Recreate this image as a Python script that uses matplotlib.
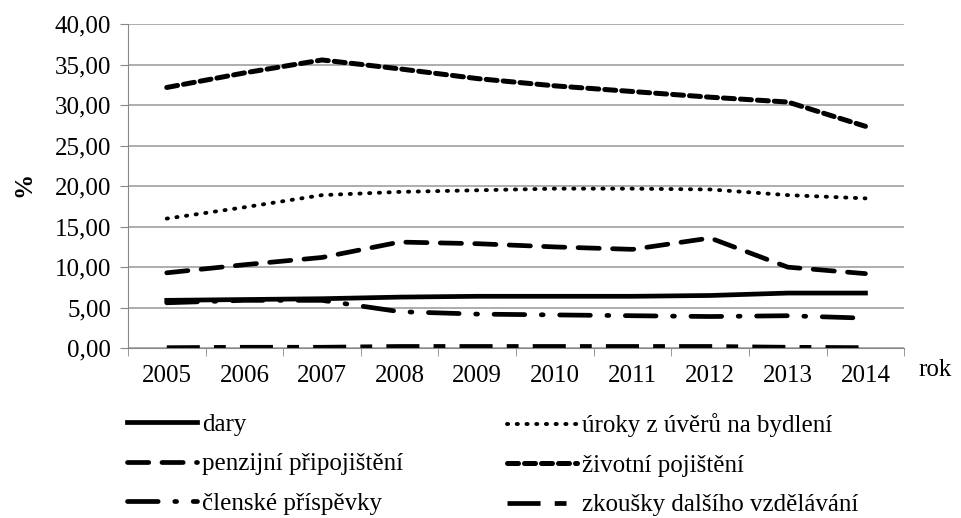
import matplotlib
matplotlib.use("Agg")
from matplotlib import pyplot as plt

plt.rcParams['font.family'] = ['Liberation Serif', 'DejaVu Serif']

years = ["2005", "2006", "2007", "2008", "2009", "2010", "2011", "2012", "2013", "2014"]
dary = [5.9, 6.0, 6.1, 6.3, 6.4, 6.4, 6.4, 6.5, 6.8, 6.8]
uroky = [16.0, 17.4, 18.9, 19.3, 19.5, 19.7, 19.7, 19.6, 18.9, 18.5]
penzijni = [9.3, 10.3, 11.2, 13.1, 12.9, 12.5, 12.2, 13.6, 10.0, 9.2]
zivotni = [32.2, 34.0, 35.6, 34.5, 33.3, 32.4, 31.7, 31.0, 30.4, 27.4]
clenske = [5.6, 5.9, 5.9, 4.5, 4.2, 4.1, 4.0, 3.9, 4.0, 3.7]
zkousky = [0.05, 0.1, 0.1, 0.2, 0.2, 0.2, 0.2, 0.2, 0.1, 0.05]

fig = plt.figure(figsize=(9.62, 5.18), dpi=100)
ax = fig.add_axes([0.133, 0.328, 0.807, 0.625])

x = range(len(years))
l1, = ax.plot(x, dary, color="black", lw=3.4, label="dary")
l2, = ax.plot(x, uroky, color="black", lw=2.8, linestyle=(0, (0.3, 2.2)),
              dash_capstyle="round", label="úroky z úvěrů na bydlení")
l3, = ax.plot(x, penzijni, color="black", lw=3.4, linestyle=(0, (4.5, 2.8)),
              dash_capstyle="round", label="penzijní připojištění")
l4, = ax.plot(x, zivotni, color="black", lw=3.6, linestyle=(0, (2.2, 1.2)),
              dash_capstyle="round", label="životní pojištění")
l5, = ax.plot(x, clenske, color="black", lw=3.4, linestyle=(0, (6.5, 3.5, 0.4, 3.5)),
              dash_capstyle="round", label="členské příspěvky")
l6, = ax.plot(x, zkousky, color="black", lw=3.4, linestyle=(0, (7, 3, 2.5, 3)),
              label="zkoušky dalšího vzdělávání")

ax.set_xlim(-0.5, len(years) - 0.5)
ax.set_ylim(0, 40)
ax.set_yticks(range(0, 41, 5))
ax.set_yticklabels([f"{v},00" for v in range(0, 41, 5)], fontsize=18)
ax.set_xticks(list(x))
ax.set_xticklabels(years, fontsize=18)
ax.set_xticks([i - 0.5 for i in range(len(years) + 1)], minor=True)
ax.tick_params(axis="x", which="major", length=0, pad=12)
ax.tick_params(axis="x", which="minor", length=6, color="#888888")
ax.tick_params(axis="y", length=6, color="#888888", pad=6)

ax.grid(axis="y", color="#a0a0a0", lw=1.2)
ax.set_axisbelow(True)
for s in ["top", "right"]:
    ax.spines[s].set_visible(False)
ax.spines["left"].set_color("#888888")
ax.spines["bottom"].set_color("#888888")

fig.text(0.025, 0.643, "%", fontsize=18, fontweight="bold", rotation=90,
         ha="center", va="center")
fig.text(0.972, 0.285, "rok", fontsize=18, ha="center", va="center")

leg_opts = dict(loc="upper left", bbox_transform=fig.transFigure, frameon=False,
                fontsize=18, handlelength=2.8, handletextpad=0.2,
                labelspacing=0.68, borderpad=0, borderaxespad=0)
leg1 = ax.legend([l1, l3, l5], [l1.get_label(), l3.get_label(), l5.get_label()],
                 bbox_to_anchor=(0.132, 0.202), **leg_opts)
ax.add_artist(leg1)
ax.legend([l2, l4, l6], [l2.get_label(), l4.get_label(), l6.get_label()],
          bbox_to_anchor=(0.527, 0.202), **leg_opts)

fig.savefig("out.png", dpi=100)
